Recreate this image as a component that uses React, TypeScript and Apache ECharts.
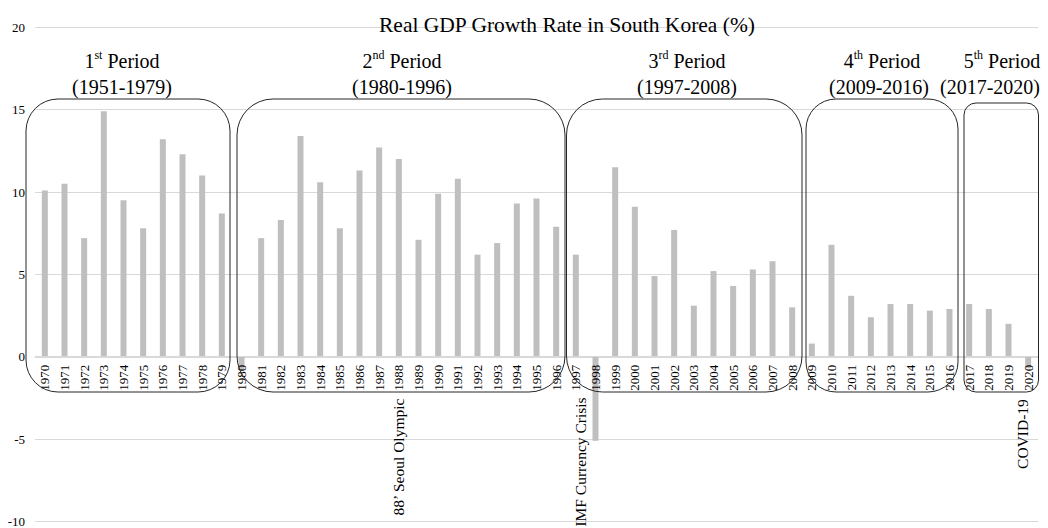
import React, { useEffect, useRef } from "react";
import * as echarts from "echarts";

// ---- data ----
const years = [
  "1970", "1971", "1972", "1973", "1974", "1975", "1976", "1977", "1978", "1979",
  "1980", "1981", "1982", "1983", "1984", "1985", "1986", "1987", "1988", "1989",
  "1990", "1991", "1992", "1993", "1994", "1995", "1996", "1997", "1998", "1999",
  "2000", "2001", "2002", "2003", "2004", "2005", "2006", "2007", "2008", "2009",
  "2010", "2011", "2012", "2013", "2014", "2015", "2016", "2017", "2018", "2019",
  "2020",
];
const growthRate = [
  10.1, 10.5, 7.2, 14.9, 9.5, 7.8, 13.2, 12.3, 11.0, 8.7,
  -0.8, 7.2, 8.3, 13.4, 10.6, 7.8, 11.3, 12.7, 12.0, 7.1,
  9.9, 10.8, 6.2, 6.9, 9.3, 9.6, 7.9, 6.2, -5.1, 11.5,
  9.1, 4.9, 7.7, 3.1, 5.2, 4.3, 5.3, 5.8, 3.0, 0.8,
  6.8, 3.7, 2.4, 3.2, 3.2, 2.8, 2.9, 3.2, 2.9, 2.0,
  -0.7,
];
const yMin = -10;
const yMax = 20;
const yStep = 5;

const titleText = "Real GDP Growth Rate in South Korea (%)";
const periodNumbers = ["1", "2", "3", "4", "5"];
const periodSuffixes = ["st", "nd", "rd", "th", "th"];
const periodRanges = ["(1951-1979)", "(1980-1996)", "(1997-2008)", "(2009-2016)", "(2017-2020)"];
const eventLabels = ["88’ Seoul Olympic", "IMF Currency Crisis", "COVID-19"];

// ---- layout (decorations) ----
const FONT = '"Liberation Serif", "Times New Roman", serif';
const GRID_TOP = 27.3;
const GRID_BOTTOM = 6.3;
const CHART_H = 528;
const periodBoxes = [
  { x: 26, y: 99, w: 204, h: 293, r: 32 },
  { x: 237, y: 99, w: 328, h: 293, r: 36 },
  { x: 566.5, y: 99, w: 235.5, h: 293, r: 36 },
  { x: 806, y: 99, w: 152, h: 293, r: 30 },
  { x: 964, y: 103, w: 74.5, h: 289, r: 12 },
];
const periodLine1X = [122, 402, 687, 882, 1002];
const periodLine2X = [122, 402, 687, 879, 990];
const eventPos = [
  { x: 398.5, y: 457 },
  { x: 580.5, y: 462 },
  { x: 1022.5, y: 434 },
];

export default function App() {
  const ref = useRef<HTMLDivElement>(null);

  useEffect(() => {
    if (!ref.current) return;
    const chart = echarts.init(ref.current, undefined, { renderer: "svg" });

    // distance from plot bottom to the zero line, so the category axis sits on zero
    const plotH = CHART_H - GRID_TOP - GRID_BOTTOM;
    const zeroFromBottom = (plotH * (0 - yMin)) / (yMax - yMin);

    const graphics: any[] = [];
    periodBoxes.forEach((b) => {
      graphics.push({
        type: "rect",
        z: 10,
        shape: { x: b.x, y: b.y, width: b.w, height: b.h, r: b.r },
        style: { fill: "none", stroke: "#262626", lineWidth: 1 },
        silent: true,
      });
    });
    periodNumbers.forEach((n, i) => {
      graphics.push({
        type: "text",
        z: 10,
        x: periodLine1X[i],
        y: 61,
        style: {
          text: `{n|${n}}{s|${periodSuffixes[i]}}{n| Period}`,
          align: "center",
          verticalAlign: "middle",
          rich: {
            n: { fontSize: 20, fontFamily: FONT, fill: "#000", lineHeight: 24 },
            s: { fontSize: 12, fontFamily: FONT, fill: "#000", lineHeight: 16, verticalAlign: "top" },
          },
        },
      });
      graphics.push({
        type: "text",
        z: 10,
        x: periodLine2X[i],
        y: 87,
        style: {
          text: periodRanges[i],
          fontSize: 20,
          fontFamily: FONT,
          fill: "#000",
          align: "center",
          verticalAlign: "middle",
        },
      });
    });
    eventLabels.forEach((t, i) => {
      graphics.push({
        type: "text",
        z: 10,
        x: eventPos[i].x,
        y: eventPos[i].y,
        rotation: Math.PI / 2,
        style: {
          text: t,
          fontSize: 15.5,
          fontFamily: FONT,
          fill: "#000",
          align: "center",
          verticalAlign: "middle",
        },
      });
    });

    chart.setOption({
      animation: false,
      backgroundColor: "#fff",
      title: {
        text: titleText,
        left: 562,
        top: 9,
        textAlign: "center",
        textStyle: { fontFamily: FONT, fontSize: 21.5, fontWeight: "normal", color: "#000" },
      },
      grid: { left: 35, right: 10, top: GRID_TOP, bottom: GRID_BOTTOM, containLabel: false },
      xAxis: {
        type: "category",
        data: years,
        z: 5,
        offset: -zeroFromBottom,
        axisLine: { show: true, onZero: false, lineStyle: { color: "#d9d9d9", width: 1 } },
        axisTick: { show: false },
        axisLabel: {
          interval: 0,
          rotate: 90,
          margin: 8,
          fontFamily: FONT,
          fontSize: 13,
          color: "#000",
        },
      },
      yAxis: {
        type: "value",
        min: yMin,
        max: yMax,
        interval: yStep,
        axisLine: { show: false },
        axisTick: { show: false },
        splitLine: { lineStyle: { color: "#d9d9d9", width: 1 } },
        axisLabel: { margin: 10, fontFamily: FONT, fontSize: 13, color: "#000" },
      },
      series: [
        {
          type: "bar",
          z: 2,
          data: growthRate,
          barWidth: 6,
          itemStyle: { color: "#bfbfbf" },
        },
      ],
      graphic: graphics,
    });

    return () => chart.dispose();
  }, []);

  return (
    <div
      ref={ref}
      style={{ position: "fixed", left: 0, top: 0, width: 1048, height: 528, background: "#fff" }}
    />
  );
}
